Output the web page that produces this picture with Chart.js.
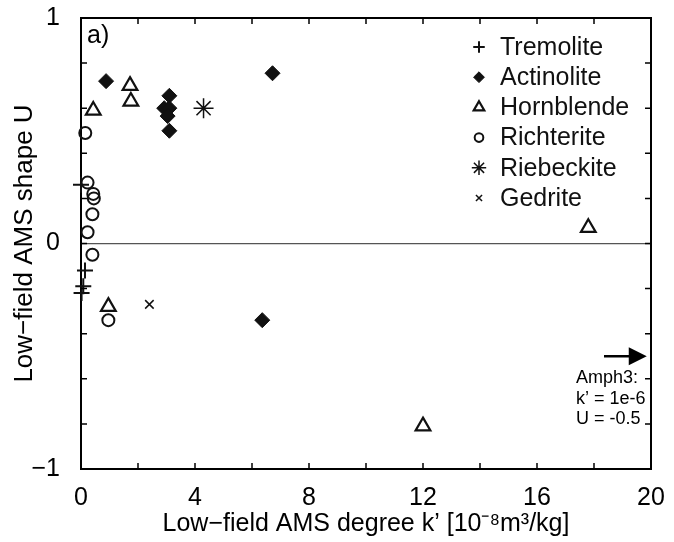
<!DOCTYPE html>
<html lang="en">
<head>
    <meta charset="UTF-8">
    <title>Low-field AMS shape vs degree</title>
    <style>
        body { margin: 0; background: #fff; }
        #myChart { display: block; }
    </style>
    <script src="https://cdn.jsdelivr.net/npm/chart.js"></script>
</head>
<body>
    <canvas id="myChart" width="674" height="542"></canvas>
    <script>
        // values: k' in 1e-8 m3/kg, U dimensionless
        const tremoliteK = [0.0, 0.14, 0.08, 0.02];
        const tremoliteU = [0.26, -0.12, -0.19, -0.22];

        const actinoliteK = [0.88, 6.72, 3.1, 2.92, 3.1, 3.04, 3.1, 6.36];
        const actinoliteU = [0.72, 0.755, 0.655, 0.60, 0.60, 0.565, 0.50, -0.34];

        const hornblendeK = [0.43, 1.72, 1.75, 0.96, 12.0, 17.8];
        const hornblendeU = [0.59, 0.70, 0.63, -0.28, -0.81, 0.07];

        const richteriteK = [0.15, 0.23, 0.43, 0.45, 0.4, 0.23, 0.4, 0.96];
        const richteriteU = [0.49, 0.27, 0.22, 0.20, 0.13, 0.05, -0.05, -0.34];

        const riebeckiteK = [4.3];
        const riebeckiteU = [0.60];

        const gedriteK = [2.4];
        const gedriteU = [-0.27];

        const xLabelValues = [0, 4, 8, 12, 16, 20];
        const yLabelValues = [-1, 0, 1];

        const amph3Note = ['Amph3:', 'k’ = 1e-6', 'U = -0.5'];
        const amph3Arrow = { x0: 18.35, x1: 19.85, u: -0.5 };

        const FONT = '"Liberation Sans", Arial, Helvetica, sans-serif';

        function pts(xs, ys) {
            return xs.map((x, i) => ({ x: x, y: ys[i] }));
        }

        function series(label, xs, ys, style, radius, filled, width) {
            return {
                label: label,
                data: pts(xs, ys),
                pointStyle: style,
                pointRadius: radius,
                pointHoverRadius: radius,
                pointBorderColor: '#111',
                pointBackgroundColor: filled ? '#111' : 'rgba(0,0,0,0)',
                pointBorderWidth: width,
                showLine: false,
                clip: false
            };
        }

        const near = (v, list) => list.some(t => Math.abs(v - t) < 1e-6);

        // inward ticks on all four sides, top/right frame, legend and note
        const framePlugin = {
            id: 'frame',
            afterDraw(chart) {
                const ctx = chart.ctx;
                const a = chart.chartArea;
                const xs = chart.scales.x, ys = chart.scales.y;
                ctx.save();
                ctx.strokeStyle = '#000';
                ctx.lineWidth = 2;
                ctx.beginPath();
                ctx.moveTo(a.left, a.top); ctx.lineTo(a.right, a.top);
                ctx.lineTo(a.right, a.bottom);
                ctx.stroke();

                ctx.lineWidth = 1.5;
                const len = 6;
                ctx.beginPath();
                xs.ticks.forEach(t => {
                    const px = xs.getPixelForValue(t.value);
                    ctx.moveTo(px, a.bottom); ctx.lineTo(px, a.bottom - len);
                    ctx.moveTo(px, a.top); ctx.lineTo(px, a.top + len);
                });
                ys.ticks.forEach(t => {
                    const py = ys.getPixelForValue(t.value);
                    ctx.moveTo(a.left, py); ctx.lineTo(a.left + len, py);
                    ctx.moveTo(a.right, py); ctx.lineTo(a.right - len, py);
                });
                ctx.stroke();

                // panel tag
                ctx.fillStyle = '#000';
                ctx.font = '25px ' + FONT;
                ctx.textAlign = 'left';
                ctx.textBaseline = 'alphabetic';
                ctx.fillText('a)', a.left + 6, a.top + 25);

                // legend
                const lx = 479, tx = 500, ly0 = 47, step = 30.2;
                chart.data.datasets.forEach((ds, i) => {
                    const y = ly0 + i * step;
                    ctx.fillStyle = ds.pointBackgroundColor;
                    ctx.strokeStyle = ds.pointBorderColor;
                    ctx.lineWidth = ds.pointBorderWidth;
                    Chart.helpers.drawPoint(ctx, {
                        pointStyle: ds.pointStyle,
                        radius: ds.pointRadius * 0.72,
                        rotation: 0,
                        borderWidth: ds.pointBorderWidth
                    }, lx, y);
                    ctx.fillStyle = '#111';
                    ctx.font = '25px ' + FONT;
                    ctx.textBaseline = 'middle';
                    ctx.fillText(ds.label, tx, y + 1);
                });

                // Amph3 off-scale arrow and note
                const ay = ys.getPixelForValue(amph3Arrow.u);
                const ax0 = xs.getPixelForValue(amph3Arrow.x0);
                const ax1 = xs.getPixelForValue(amph3Arrow.x1);
                ctx.strokeStyle = '#000';
                ctx.fillStyle = '#000';
                ctx.lineWidth = 2.5;
                ctx.beginPath();
                ctx.moveTo(ax0, ay); ctx.lineTo(ax1 - 12, ay);
                ctx.stroke();
                ctx.beginPath();
                ctx.moveTo(ax1, ay);
                ctx.lineTo(ax1 - 18, ay - 9);
                ctx.lineTo(ax1 - 18, ay + 9);
                ctx.closePath();
                ctx.fill();

                ctx.font = '18px ' + FONT;
                ctx.textBaseline = 'middle';
                amph3Note.forEach((s, i) => {
                    ctx.fillText(s, 576, 378 + i * 20.7);
                });
                ctx.restore();
            }
        };

        const ctx = document.getElementById('myChart').getContext('2d');
        const myChart = new Chart(ctx, {
            type: 'scatter',
            data: {
                datasets: [
                    series('Tremolite', tremoliteK, tremoliteU, 'cross', 8, false, 2),
                    series('Actinolite', actinoliteK, actinoliteU, 'rectRot', 7.5, true, 1),
                    series('Hornblende', hornblendeK, hornblendeU, 'triangle', 8.5, false, 2.2),
                    series('Richterite', richteriteK, richteriteU, 'circle', 6, false, 2),
                    series('Riebeckite', riebeckiteK, riebeckiteU, 'star', 10, false, 1.5),
                    series('Gedrite', gedriteK, gedriteU, 'crossRot', 6, false, 1.5)
                ]
            },
            options: {
                responsive: false,
                animation: false,
                layout: { padding: { top: 18, right: 23, left: 0, bottom: 0 } },
                plugins: {
                    legend: { display: false },
                    tooltip: { enabled: false }
                },
                scales: {
                    x: {
                        type: 'linear',
                        min: 0,
                        max: 20,
                        afterFit: s => {
                            s.height = 73;
                            s.paddingLeft = 0; s.paddingRight = 0;
                        },
                        ticks: {
                            stepSize: 2,
                            autoSkip: false,
                            maxRotation: 0,
                            padding: 14,
                            color: '#000',
                            font: { family: FONT, size: 25 },
                            callback: v => near(v, xLabelValues) ? String(v) : ''
                        },
                        grid: { display: false, drawTicks: false },
                        border: { display: true, color: '#000', width: 2 },
                        title: {
                            display: true,
                            text: 'Low−field AMS degree k’ [10⁻⁸m³/kg]',
                            color: '#000',
                            font: { family: FONT, size: 25 },
                            padding: { top: 0, bottom: 3 }
                        }
                    },
                    y: {
                        type: 'linear',
                        min: -1,
                        max: 1,
                        afterFit: s => {
                            s.width = 81;
                            s.paddingTop = 0; s.paddingBottom = 0;
                        },
                        ticks: {
                            stepSize: 0.2,
                            autoSkip: false,
                            padding: 21,
                            color: '#000',
                            font: { family: FONT, size: 25 },
                            callback: v => near(v, yLabelValues) ? String(Math.round(v)).replace('-', '−') : ''
                        },
                        grid: {
                            drawTicks: false,
                            color: c => (c.tick && Math.abs(c.tick.value) < 1e-6) ? '#555' : 'rgba(0,0,0,0)',
                            lineWidth: 1.2
                        },
                        border: { display: true, color: '#000', width: 2 },
                        title: {
                            display: true,
                            text: 'Low−field AMS shape U',
                            color: '#000',
                            font: { family: FONT, size: 26 },
                            padding: { top: 9, bottom: 0 }
                        }
                    }
                }
            },
            plugins: [framePlugin]
        });
    </script>
</body>
</html>
